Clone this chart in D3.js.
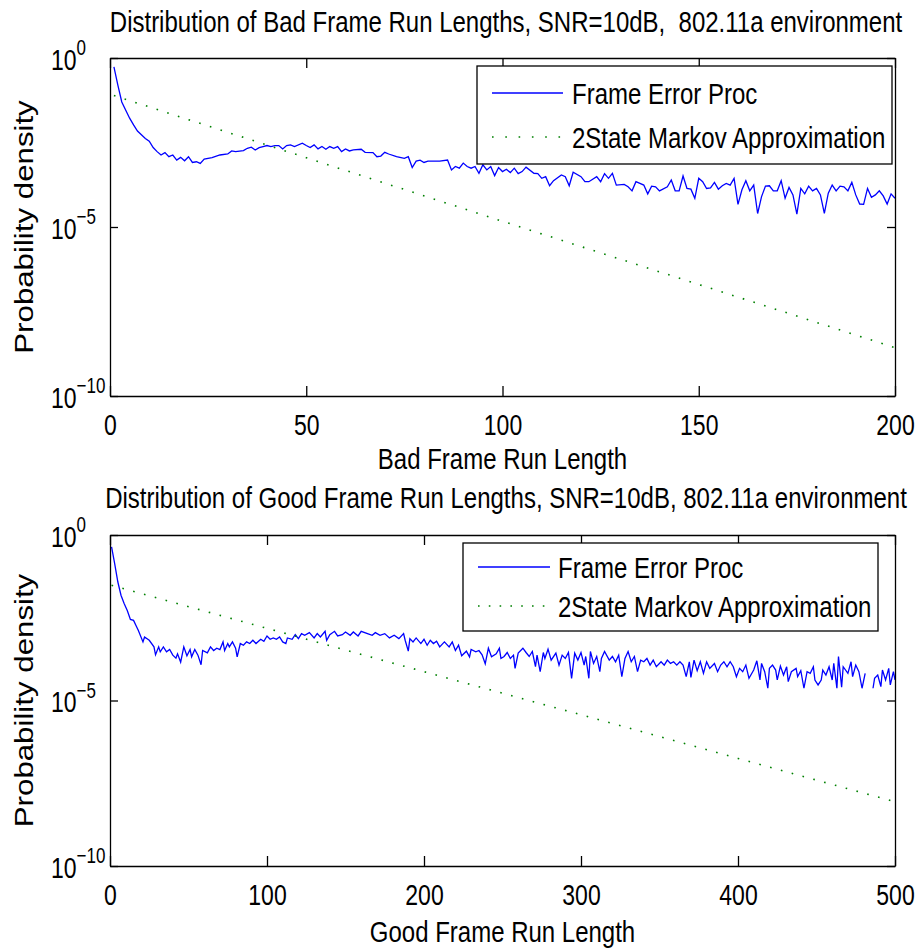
<!DOCTYPE html>
<html>
<head>
<meta charset="utf-8">
<script src="https://cdn.jsdelivr.net/npm/d3@7"></script>
<style>
  body { margin: 0; background: #fff; }
  text { font-family: "Liberation Sans", Arial, Helvetica, sans-serif; fill: #000; }
</style>
</head>
<body>
<svg id="chart"></svg>
<script>
// ---- data (log10 of the probability density) ----
const badRun = [
  1, 2, 3, 5, 6, 7, 9, 10, 11, 12,
  13, 14, 15, 16, 17, 18, 19, 20, 21, 22,
  23, 24, 26, 28, 30, 31, 32, 34, 35, 36,
  37, 38, 39, 40, 41, 42, 43, 44, 45, 46,
  47, 49, 50, 51, 52, 53, 54, 55, 56, 57,
  58, 59, 60, 61, 62, 64, 65, 67, 68, 69,
  70, 71, 73, 75, 76, 77, 78, 79, 80, 81,
  84, 86, 87, 88, 89, 90, 91, 92, 93, 94,
  95, 96, 97, 98, 99, 100, 101, 102, 103, 104,
  105, 106, 108, 109, 110, 111, 112, 113, 115, 116,
  117, 118, 120, 121, 122, 124, 125, 126, 127, 128,
  129, 131, 132, 133, 134, 136, 137, 138, 139, 140,
  142, 143, 144, 145, 146, 147, 148, 149, 150, 151,
  152, 153, 154, 155, 156, 157, 158, 159, 160, 161,
  162, 163, 164, 165, 166, 167, 168, 169, 170, 171,
  172, 173, 174, 175, 176, 177, 178, 179, 180, 181,
  182, 183, 184, 185, 186, 187, 188, 189, 190, 191,
  192, 193, 194, 195, 196, 197, 198, 199, 200
];
const badDensityExp = [
  -0.26, -0.80, -1.30, -1.78, -1.98, -2.16, -2.38, -2.46, -2.65, -2.77,
  -2.87, -2.80, -2.92, -2.87, -3.02, -2.94, -3.04, -2.92, -3.09, -3.07,
  -3.12, -2.99, -2.95, -2.87, -2.84, -2.75, -2.77, -2.74, -2.67, -2.64,
  -2.72, -2.65, -2.62, -2.59, -2.62, -2.59, -2.59, -2.69, -2.59, -2.57,
  -2.62, -2.52, -2.59, -2.65, -2.57, -2.69, -2.62, -2.70, -2.62, -2.67,
  -2.62, -2.77, -2.69, -2.75, -2.72, -2.70, -2.79, -2.80, -2.92, -2.90,
  -2.79, -2.84, -2.92, -2.97, -2.92, -3.24, -3.05, -3.02, -3.09, -3.05,
  -3.05, -3.02, -3.31, -3.21, -3.26, -3.11, -3.21, -3.26, -3.21, -3.41,
  -3.16, -3.31, -3.21, -3.48, -3.24, -3.36, -3.29, -3.39, -3.26, -3.42,
  -3.36, -3.23, -3.41, -3.42, -3.56, -3.51, -3.78, -3.63, -3.46, -3.51,
  -3.78, -3.38, -3.51, -3.66, -3.66, -3.51, -3.66, -3.42, -3.56, -3.41,
  -3.76, -3.74, -3.81, -3.93, -3.66, -3.76, -4.02, -3.79, -3.81, -3.93,
  -3.81, -3.61, -3.93, -3.93, -3.49, -3.86, -3.88, -4.15, -3.56, -3.66,
  -3.86, -3.84, -3.68, -3.88, -3.78, -3.71, -3.76, -3.56, -4.33, -3.90,
  -3.63, -3.93, -3.76, -4.60, -4.10, -3.79, -3.78, -3.93, -3.93, -3.63,
  -4.15, -3.83, -4.05, -4.62, -3.86, -4.02, -3.79, -3.93, -3.86, -4.05,
  -4.60, -4.00, -3.76, -3.93, -3.79, -3.81, -3.93, -3.68, -4.05, -4.32,
  -4.33, -3.86, -4.12, -4.05, -3.93, -4.08, -4.32, -4.02, -4.15
];
const badMarkovRun = [1, 50, 100, 150, 200];
const badMarkovExp = [-1.11, -2.95, -4.83, -6.70, -8.57];

const goodRun = [
  1, 3, 5, 7, 9, 11, 13, 15, 17, 18,
  21, 22, 25, 28, 29, 31, 32, 34, 36, 38,
  40, 42, 43, 45, 47, 49, 51, 52, 54, 56,
  58, 59, 62, 64, 66, 68, 70, 72, 73, 75,
  76, 78, 80, 81, 83, 85, 87, 89, 91, 93,
  96, 98, 100, 102, 104, 106, 108, 110, 112, 113,
  116, 118, 120, 122, 124, 127, 130, 132, 134, 137,
  138, 140, 143, 145, 148, 150, 153, 155, 158, 160,
  164, 167, 169, 172, 175, 178, 181, 184, 187, 188,
  190, 191, 193, 195, 198, 200, 202, 204, 206, 208,
  210, 213, 216, 218, 220, 222, 224, 227, 229, 230,
  233, 235, 237, 239, 241, 243, 246, 248, 249, 251,
  253, 255, 257, 258, 260, 263, 265, 267, 269, 271,
  272, 274, 276, 277, 279, 281, 284, 286, 288, 290,
  292, 294, 296, 298, 300, 302, 303, 305, 306, 308,
  310, 312, 313, 315, 318, 320, 322, 324, 326, 328,
  330, 332, 334, 336, 338, 340, 342, 344, 346, 348,
  351, 353, 355, 357, 359, 361, 363, 365, 367, 369,
  370, 372, 374, 376, 378, 380, 382, 385, 387, 389,
  391, 393, 395, 397, 399, 401, 403, 405, 407, 410,
  412, 414, 415, 417, 419, 420, 422, 424, 425, 427,
  429, 431, 432, 434, 437, 438, 440, 442, 444, 446,
  448, 449, 451, 453, 454, 456, 458, 460, 461, 463,
  464, 466, 467, 470, 472, 473, 475, 477, 479, 481,
  483, 486, 487, 489, 491, 492, 494, 496, 497, 499,
  500
];
// null = no run of that length observed (gap in the curve)
const goodDensityExp = [
  -0.36, -0.87, -1.42, -1.82, -2.07, -2.28, -2.55, -2.58, -2.78, -2.88,
  -3.23, -3.08, -3.18, -3.38, -3.62, -3.38, -3.53, -3.38, -3.53, -3.46,
  -3.63, -3.72, -3.59, -3.84, -3.38, -3.65, -3.46, -3.68, -3.46, -3.63,
  -3.92, -3.49, -3.56, -3.38, -3.49, -3.42, -3.46, -3.23, -3.49, -3.28,
  -3.38, -3.23, -3.42, -3.68, -3.28, -3.33, -3.23, -3.28, -3.18, -3.28,
  -3.15, -3.21, -3.05, -3.15, -3.11, -3.15, -3.08, -3.23, -3.28, -3.11,
  -3.15, -3.01, -3.13, -2.98, -3.03, -2.95, -3.11, -2.98, -3.08, -2.91,
  -3.18, -3.01, -2.91, -3.05, -3.01, -2.93, -3.03, -2.93, -3.05, -2.91,
  -2.98, -3.03, -2.95, -3.03, -2.98, -3.11, -3.03, -3.13, -2.98, -3.18,
  -3.51, -3.13, -3.23, -3.11, -3.28, -3.15, -3.33, -3.18, -3.28, -3.21,
  -3.38, -3.23, -3.38, -3.23, -3.49, -3.33, -3.65, -3.51, -3.68, -3.46,
  -3.53, -3.49, -3.62, -3.89, -3.42, -3.68, -3.59, -3.42, -3.73, -3.67,
  -3.55, -3.73, -3.63, -4.03, -3.57, -3.42, -3.55, -3.67, -3.52, -3.98,
  -3.63, -4.13, -3.55, -3.73, -3.45, -3.78, -3.57, -3.93, -3.63, -3.73,
  -3.55, -4.33, -3.57, -3.78, -3.55, -3.93, -3.67, -4.33, -3.52, -3.88,
  -3.67, -4.13, -3.73, -3.52, -3.78, -3.67, -3.83, -3.63, -4.28, -3.73,
  -3.52, -3.83, -3.67, -4.13, -3.78, -3.83, -3.73, -3.93, -3.78, -3.98,
  -3.83, -3.93, -3.78, -3.88, -3.83, -3.93, -3.83, -3.93, -4.28, -3.83,
  -4.30, -3.78, -4.10, -3.83, -4.18, -3.83, -4.03, -3.88, -4.13, -3.93,
  -3.83, -3.98, -3.83, -3.98, -4.28, -4.03, -4.13, -3.93, -4.33, -4.08,
  -3.80, -4.38, -3.88, -4.13, -4.63, -4.03, -3.93, -4.08, -4.38, -3.96,
  -4.23, -3.98, -4.43, -4.13, -4.03, -4.28, -4.10, -4.63, -4.13, -4.18,
  -3.98, -4.38, -4.53, -4.38, -4.08, -4.23, -3.98, -4.38, -3.88, -4.63,
  -3.67, -4.60, -3.98, -4.18, -3.83, -4.28, -3.93, -4.13, -4.63, -4.18,
  null, -4.63, -4.33, -4.23, -4.58, -4.08, -4.38, -4.03, -4.53, -4.13,
  -4.38
];
const goodMarkovRun = [1, 100, 200, 300, 400, 500];
const goodMarkovExp = [-1.52, -2.82, -4.13, -5.43, -6.75, -8.06];

const badXTicks = [0, 50, 100, 150, 200];
const goodXTicks = [0, 100, 200, 300, 400, 500];
const yTickExp = [0, -5, -10];
const legendLabels = ['Frame Error Proc', '2State Markov Approximation'];

// the original figure is stretched vertically; text gets the same stretch
const SY = 1.25;
const blue = '#0000ff', green = '#008000';

const svg = d3.select('#chart').attr('width', 920).attr('height', 952)
  .style('background', '#fff');

function stretchedText(parent, x, y, str, size, anchor) {
  return parent.append('text')
    .attr('transform', `translate(${x},${y}) scale(1,${SY})`)
    .attr('text-anchor', anchor || 'middle')
    .style('font-size', size + 'px')
    .style('white-space', 'pre')
    .text(str);
}

function drawPanel(p) {
  const g = svg.append('g');
  const x = d3.scaleLinear().domain([0, p.xMax]).range([p.left, p.right]);
  const y = d3.scaleLog().domain([1e-10, 1]).range([p.bottom, p.top]);

  // lines
  const line = d3.line()
    .defined(d => d[1] !== null)
    .x(d => x(d[0]))
    .y(d => y(Math.pow(10, d[1])));

  g.append('path').datum(d3.zip(p.run, p.exp))
    .attr('d', line).attr('fill', 'none')
    .attr('stroke', blue).attr('stroke-width', 1.3);
  g.append('path').datum(d3.zip(p.markovRun, p.markovExp))
    .attr('d', line).attr('fill', 'none')
    .attr('stroke', green).attr('stroke-width', 1.6)
    .attr('stroke-dasharray', '1.6 9.6');

  // axes (box with inward ticks)
  const yTicks = yTickExp.map(e => Math.pow(10, e));
  const gx = g.append('g').attr('transform', `translate(0,${p.bottom})`)
    .call(d3.axisBottom(x).tickValues(p.xTicks).tickSizeInner(-10).tickSizeOuter(0));
  g.append('g').attr('transform', `translate(0,${p.top})`)
    .call(d3.axisTop(x).tickValues(p.xTicks).tickSizeInner(-10).tickSizeOuter(0).tickFormat(''));
  const gy = g.append('g').attr('transform', `translate(${p.left},0)`)
    .call(d3.axisLeft(y).tickValues(yTicks).tickSizeInner(-8).tickSizeOuter(0));
  g.append('g').attr('transform', `translate(${p.right},0)`)
    .call(d3.axisRight(y).tickValues(yTicks).tickSizeInner(-8).tickSizeOuter(0).tickFormat(''));

  g.selectAll('.domain, .tick line').attr('stroke', '#000').attr('stroke-width', 1.3);
  g.selectAll('g').attr('font-size', null).attr('font-family', null);

  gx.selectAll('.tick text')
    .attr('y', null).attr('dy', null)
    .attr('transform', `translate(0,39) scale(1,${SY})`)
    .style('font-size', '23px');

  gy.selectAll('.tick text')
    .attr('x', null).attr('dy', null)
    .attr('text-anchor', 'start')
    .attr('transform', `translate(-59,11) scale(1,${SY})`)
    .style('font-size', '23px')
    .text('')
    .each(function (d) {
      const t = d3.select(this);
      const e = Math.round(Math.log10(d));
      t.append('tspan').text('10');
      t.append('tspan').attr('dy', -11.5).style('font-size', '17px')
        .text(e < 0 ? '\u2212' + (-e) : String(e));
    });

  // labels
  stretchedText(g, p.titleX, p.titleY, p.title, 24);
  stretchedText(g, (p.left + p.right) / 2, p.xLabelY, p.xLabel, 24);
  g.append('text')
    .attr('transform', `translate(33,${(p.top + p.bottom) / 2}) rotate(-90) scale(${SY},1)`)
    .attr('text-anchor', 'middle')
    .style('font-size', '25px')
    .text('Probability density');

  // legend
  const L = p.legend;
  g.append('rect').attr('x', L.x).attr('y', L.y).attr('width', L.w).attr('height', L.h)
    .attr('fill', '#fff').attr('stroke', '#000').attr('stroke-width', 1.3);
  legendLabels.forEach((lab, i) => {
    const ly = L.rows[i];
    g.append('line').attr('x1', L.lx1).attr('x2', L.lx2).attr('y1', ly).attr('y2', ly)
      .attr('stroke', i === 0 ? blue : green)
      .attr('stroke-width', i === 0 ? 1.3 : 1.6)
      .attr('stroke-dasharray', i === 0 ? null : L.dash);
    stretchedText(g, L.tx, ly + 10.5, lab, 24, 'start');
  });
}

drawPanel({
  left: 110, right: 895, top: 58, bottom: 396, xMax: 200,
  run: badRun, exp: badDensityExp, markovRun: badMarkovRun, markovExp: badMarkovExp,
  xTicks: badXTicks,
  title: 'Distribution of Bad Frame Run Lengths, SNR=10dB,  802.11a environment',
  titleX: 506, titleY: 32,
  xLabel: 'Bad Frame Run Length', xLabelY: 469,
  legend: { x: 477, y: 66, w: 415, h: 98, rows: [93, 137], lx1: 492, lx2: 563, tx: 572, dash: '1.6 11.7' }
});

drawPanel({
  left: 110, right: 895, top: 535, bottom: 866, xMax: 500,
  run: goodRun, exp: goodDensityExp, markovRun: goodMarkovRun, markovExp: goodMarkovExp,
  xTicks: goodXTicks,
  title: 'Distribution of Good Frame Run Lengths, SNR=10dB, 802.11a environment',
  titleX: 506, titleY: 508,
  xLabel: 'Good Frame Run Length', xLabelY: 942,
  legend: { x: 463, y: 543, w: 415, h: 88, rows: [567, 606], lx1: 478, lx2: 550, tx: 558, dash: '1.6 9.2' }
});
</script>
</body>
</html>
